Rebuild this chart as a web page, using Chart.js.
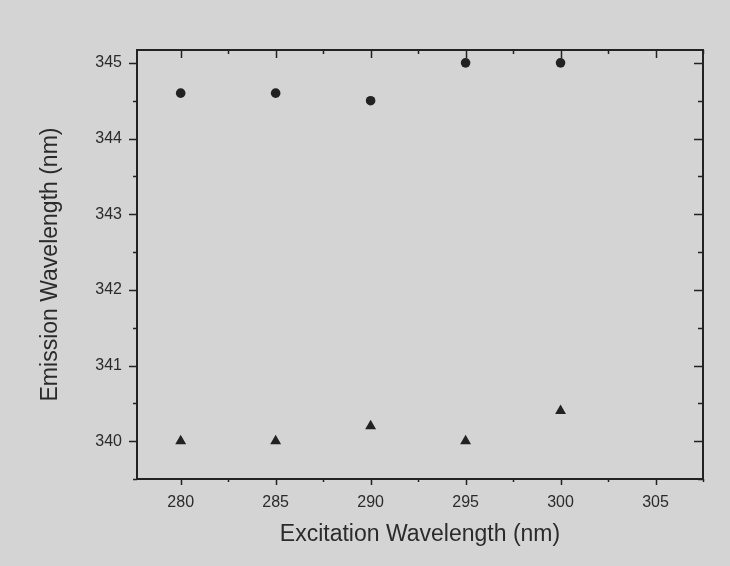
<!DOCTYPE html>
<html>
<head>
<meta charset="utf-8">
<title>Emission vs Excitation Wavelength</title>
<script src="https://cdn.jsdelivr.net/npm/chart.js@4/dist/chart.umd.min.js"></script>
<style>
  html, body { margin: 0; padding: 0; background: #d4d4d4; }
  canvas { display: block; }
</style>
</head>
<body>
<canvas id="chart" width="730" height="566"></canvas>
<script>
// Excitation wavelengths (nm)
const excitation = [280, 285, 290, 295, 300];
// Emission peak, series drawn with circles (nm)
const emissionCircles = [344.6, 344.6, 344.5, 345.0, 345.0];
// Emission peak, series drawn with triangles (nm)
const emissionTriangles = [340.0, 340.0, 340.2, 340.0, 340.4];

// Axis tick labels
const xTickLabels = [280, 285, 290, 295, 300, 305];
const yTickLabels = [340, 341, 342, 343, 344, 345];

const xTitle = 'Excitation Wavelength (nm)';
const yTitle = 'Emission Wavelength (nm)';

const INK = '#222222';
const TEXT = '#2b2b2b';
const BG = '#d4d4d4';

const toPoints = (xs, ys) => xs.map((x, i) => ({ x: x, y: ys[i] }));

// Paints the page background and draws the boxed frame with major/minor ticks
const framePlugin = {
  id: 'frame',
  beforeDraw(chart) {
    const ctx = chart.ctx;
    ctx.save();
    ctx.fillStyle = BG;
    ctx.fillRect(0, 0, chart.width, chart.height);
    ctx.restore();
  },
  afterDatasetsDraw(chart) {
    const { ctx, chartArea: a, scales: { x, y } } = chart;
    ctx.save();
    ctx.strokeStyle = INK;
    ctx.lineWidth = 2;
    ctx.strokeRect(a.left, a.top, a.right - a.left, a.bottom - a.top);

    ctx.lineWidth = 1.5;
    const line = (x1, y1, x2, y2) => {
      ctx.beginPath(); ctx.moveTo(x1, y1); ctx.lineTo(x2, y2); ctx.stroke();
    };
    // x ticks every 2.5, majors on multiples of 5
    for (let v = 277.5; v <= x.max + 1e-6; v += 2.5) {
      if (v < x.min - 1e-6) continue;
      const px = Math.round(x.getPixelForValue(v)) + 0.5;
      const major = Math.abs(v % 5) < 1e-6;
      const lb = major ? 6 : 3;
      const lt = major ? 8 : 4;
      line(px, a.bottom, px, a.bottom + lb);
      line(px, a.top, px, a.top + lt);
    }
    // y ticks every 0.5, majors on integers
    for (let v = Math.ceil(y.min * 2) / 2; v <= y.max + 1e-6; v += 0.5) {
      const py = Math.round(y.getPixelForValue(v)) + 0.5;
      const major = Math.abs(v - Math.round(v)) < 1e-6;
      const ll = major ? 8 : 4;
      const lr = major ? 9 : 5;
      line(a.left - ll, py, a.left, py);
      line(a.right - lr, py, a.right, py);
    }
    ctx.restore();
  }
};

const tickFont = { family: "'Liberation Sans', Arial, sans-serif", size: 16 };
const titleFont = { family: "'Liberation Sans', Arial, sans-serif", size: 23 };

new Chart(document.getElementById('chart'), {
  type: 'scatter',
  data: {
    datasets: [
      {
        label: 'circles',
        data: toPoints(excitation, emissionCircles),
        pointStyle: 'circle',
        pointRadius: 4.8,
        backgroundColor: INK,
        borderColor: INK,
        borderWidth: 0
      },
      {
        label: 'triangles',
        data: toPoints(excitation, emissionTriangles),
        pointStyle: 'triangle',
        pointRadius: 6.3,
        backgroundColor: INK,
        borderColor: INK,
        borderWidth: 0
      }
    ]
  },
  options: {
    responsive: false,
    animation: false,
    devicePixelRatio: 1,
    layout: { padding: { top: 50, right: 27, left: 0, bottom: 0 } },
    plugins: {
      legend: { display: false },
      tooltip: { enabled: false }
    },
    scales: {
      x: {
        type: 'linear',
        min: 277.7,
        max: 307.5,
        border: { display: false },
        grid: { display: false, drawTicks: false, tickLength: 0 },
        ticks: {
          stepSize: 5,
          includeBounds: false,
          padding: 14,
          color: TEXT,
          font: tickFont,
          maxRotation: 0,
          callback: (v) => xTickLabels.includes(v) ? String(v) : ''
        },
        afterBuildTicks: (s) => { s.ticks = xTickLabels.map(v => ({ value: v })); },
        afterFit: (s) => { s.height = 87; },
        title: {
          display: true,
          text: xTitle,
          color: TEXT,
          font: titleFont,
          padding: { top: 0, bottom: 18 }
        }
      },
      y: {
        type: 'linear',
        min: 339.5,
        max: 345.17,
        border: { display: false },
        grid: { display: false, drawTicks: false, tickLength: 0 },
        ticks: {
          stepSize: 1,
          includeBounds: false,
          padding: 15,
          color: TEXT,
          font: tickFont,
          callback: (v) => yTickLabels.includes(v) ? String(v) : ''
        },
        afterBuildTicks: (s) => { s.ticks = yTickLabels.map(v => ({ value: v })); },
        afterFit: (s) => { s.width = 137; },
        title: {
          display: true,
          text: yTitle,
          color: TEXT,
          font: titleFont,
          padding: { top: 37, bottom: 0 }
        }
      }
    }
  },
  plugins: [framePlugin]
});
</script>
</body>
</html>
